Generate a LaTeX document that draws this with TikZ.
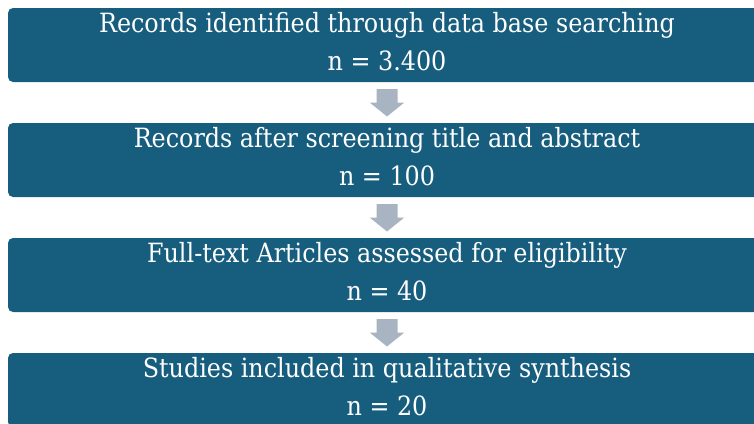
\documentclass[tikz,border=0pt]{standalone}
\usepackage{fontspec}
\setmainfont{DejaVu Serif Condensed}
\usetikzlibrary{calc}
\definecolor{boxblue}{RGB}{23,94,126}
\definecolor{arrowgrey}{RGB}{168,180,194}
\tikzset{
  stagebox/.style={fill=boxblue, draw=none, rounded corners=5pt,
    minimum width=758pt, minimum height=74pt, inner sep=0pt},
  stagetext/.style={text=white, inner sep=0pt, anchor=base,
    font=\fontsize{26.5pt}{30pt}\selectfont},
  flowarrow/.style={fill=arrowgrey, draw=none}
}
% block arrow from the bottom of one box to the top of the next
\newcommand\stagearrow[2]{%
  \fill[flowarrow]
    ($(#1.south)+(-10.5,7)$) -- ($(#1.south)+(10.5,7)$)
    -- ($(#2.north)+(10.5,-20.3)$) -- ($(#2.north)+(17.3,-20.3)$)
    -- ($(#2.north)+(0,-6.3)$)
    -- ($(#2.north)+(-17.3,-20.3)$) -- ($(#2.north)+(-10.5,-20.3)$)
    -- cycle;}
\begin{document}
\begin{tikzpicture}[x=1pt,y=-1pt]
  \useasboundingbox (0,0) rectangle (754,423);
  \clip (0,0) rectangle (754,423);
  % four stages of the selection process
  \node[stagebox] (b1) at (387,45) {};
  \node[stagebox] (b2) at (387,160) {};
  \node[stagebox] (b3) at (387,275) {};
  \node[stagebox] (b4) at (387,390) {};
  \node[stagetext] (t1a) at (387,32) {Records identified through data base searching};
  \node[stagetext] (t1b) at (387,70.7) {n = 3.400};
  \node[stagetext] (t2a) at (387,147) {Records after screening title and abstract};
  \node[stagetext] (t2b) at (387,185.7) {n = 100};
  \node[stagetext] (t3a) at (387,262) {Full-text Articles assessed for eligibility};
  \node[stagetext] (t3b) at (387,300.7) {n = 40};
  \node[stagetext] (t4a) at (387,377) {Studies included in qualitative synthesis};
  \node[stagetext] (t4b) at (387,415.7) {n = 20};
  % connectors
  \stagearrow{b1}{b2}
  \stagearrow{b2}{b3}
  \stagearrow{b3}{b4}
\end{tikzpicture}
\end{document}
